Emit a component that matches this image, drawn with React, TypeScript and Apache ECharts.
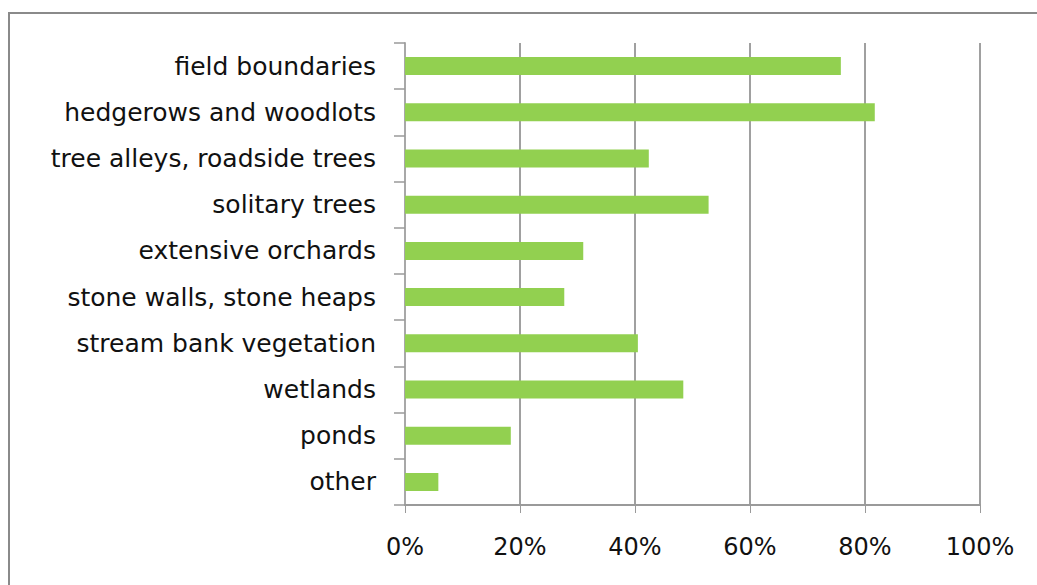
import React, { useEffect, useRef } from "react";
import * as echarts from "echarts";

const categories = [
  "field boundaries",
  "hedgerows and woodlots",
  "tree alleys, roadside trees",
  "solitary trees",
  "extensive orchards",
  "stone walls, stone heaps",
  "stream bank vegetation",
  "wetlands",
  "ponds",
  "other",
];
const values = [0.758, 0.817, 0.424, 0.528, 0.31, 0.277, 0.405, 0.484, 0.184, 0.058];
const xTicks = [0, 0.2, 0.4, 0.6, 0.8, 1.0];

export default function App() {
  const ref = useRef<HTMLDivElement>(null);
  useEffect(() => {
    if (!ref.current) return;
    const chart = echarts.init(ref.current, null, { renderer: "svg" });
    chart.setOption({
      animation: false,
      backgroundColor: "#ffffff",
      textStyle: { fontFamily: "DejaVu Sans" },
      graphic: [
        {
          type: "rect",
          shape: { x: 9, y: 13, width: 1100, height: 700 },
          style: { fill: "none", stroke: "#8a8a8a", lineWidth: 2 },
          silent: true,
        },
      ],
      grid: { left: 405, right: 57, top: 43, bottom: 80 },
      xAxis: {
        type: "value",
        min: xTicks[0],
        max: xTicks[xTicks.length - 1],
        interval: 0.2,
        axisLine: { show: true, lineStyle: { color: "#9a9a9a", width: 2 } },
        axisTick: { show: true, length: 8, lineStyle: { color: "#9a9a9a", width: 1 } },
        splitLine: { show: true, lineStyle: { color: "#a0a0a0", width: 2 } },
        axisLabel: {
          formatter: (v: number) => Math.round(v * 100) + "%",
          color: "#111",
          fontSize: 24,
          margin: 30,
          fontFamily: "DejaVu Sans",
        },
      },
      yAxis: {
        type: "category",
        inverse: true,
        data: categories,
        axisLine: { show: true, lineStyle: { color: "#a8a8a8", width: 2 } },
        axisTick: { show: true, length: 11, lineStyle: { color: "#9a9a9a", width: 1.5 } },
        axisLabel: {
          color: "#111",
          fontSize: 25,
          margin: 29,
          fontFamily: "DejaVu Sans",
        },
      },
      series: [
        {
          type: "bar",
          data: values,
          barWidth: 18,
          itemStyle: { color: "#92D050" },
        },
      ],
    });
    return () => chart.dispose();
  }, []);
  return (
    <div
      ref={ref}
      style={{ position: "absolute", left: 0, top: 0, width: 1037, height: 585 }}
    />
  );
}
